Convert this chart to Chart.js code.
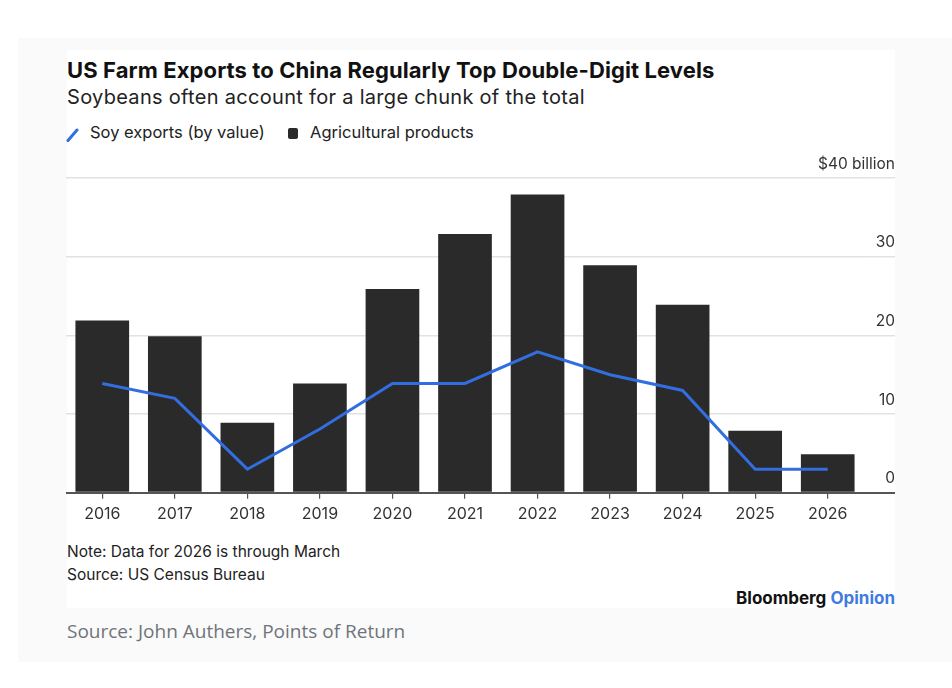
<!DOCTYPE html>
<html>
<head>
<meta charset="utf-8">
<script src="https://cdn.jsdelivr.net/npm/chart.js@4.4.1/dist/chart.umd.min.js"></script>
<style>
  html, body { margin:0; padding:0; background:#ffffff; width:952px; height:688px; overflow:hidden; font-family: Inter, "Liberation Sans", sans-serif; }
  #outer { position:absolute; left:18px; top:38px; width:934px; height:624px; background:#fafafa; }
  #card { position:absolute; left:67px; top:50px; width:828px; height:558px; background:#ffffff; }
  .t { position:absolute; white-space:nowrap; line-height:1.2; }
  #title { left:67px; top:57px; font-size:22px; font-weight:700; color:#111; letter-spacing:0.1px; }
  #subtitle { left:67px; top:85px; font-size:20px; font-weight:400; color:#222; letter-spacing:0.3px; }
  #leg1 { left:90px; top:123px; font-size:16.5px; color:#222; }
  #leg2 { left:310px; top:123px; font-size:16.5px; color:#222; }
  #legsq { position:absolute; left:288px; top:128px; width:10px; height:11px; background:#2a2a2a; border-radius:2px; }
  #legline { position:absolute; left:66px; top:128px; }
  #note { left:67px; top:543px; font-size:15.5px; color:#222; }
  #src1 { left:67px; top:566px; font-size:15.5px; color:#222; }
  #brand { right:57px; top:588px; font-size:17px; font-weight:700; color:#111; }
  #brand span { color:#3f7be0; }
  #src2 { left:67px; top:620px; font-size:19px; color:#6f747a; font-family:"Open Sans", "Noto Sans", sans-serif; }
  #chart { position:absolute; left:66px; top:150px; }
</style>
</head>
<body>
<div id="outer"></div>
<div id="card"></div>
<div class="t" id="title">US Farm Exports to China Regularly Top Double-Digit Levels</div>
<div class="t" id="subtitle">Soybeans often account for a large chunk of the total</div>
<svg id="legline" width="14" height="14"><line x1="2" y1="12.5" x2="11" y2="2" stroke="#326ee0" stroke-width="3" stroke-linecap="round"/></svg>
<div class="t" id="leg1">Soy exports (by value)</div>
<div id="legsq"></div>
<div class="t" id="leg2">Agricultural products</div>
<canvas id="chart" width="829" height="380"></canvas>
<div class="t" id="note">Note: Data for 2026 is through March</div>
<div class="t" id="src1">Source: US Census Bureau</div>
<div class="t" id="brand">Bloomberg <span>Opinion</span></div>
<div class="t" id="src2">Source: John Authers, Points of Return</div>
<script>
const years = ['2016','2017','2018','2019','2020','2021','2022','2023','2024','2025','2026'];
const agriculturalProducts = [21.9, 19.9, 8.9, 13.9, 25.9, 32.9, 37.9, 28.9, 23.9, 7.9, 4.9];
const soyExports = [13.9, 12.0, 3.0, 8.1, 13.9, 13.9, 17.9, 15.0, 13.0, 3.0, 3.0];
const yTickValues = [0, 10, 20, 30, 40];
const yTopLabel = '$40 billion';

const ctx = document.getElementById('chart').getContext('2d');
new Chart(ctx, {
  data: {
    labels: years,
    datasets: [
      {
        type: 'line',
        label: 'Soy exports (by value)',
        data: soyExports,
        borderColor: '#326ee0',
        borderWidth: 3,
        pointRadius: 0,
        tension: 0,
        fill: false,
        order: 0
      },
      {
        type: 'bar',
        label: 'Agricultural products',
        data: agriculturalProducts,
        backgroundColor: '#2a2a2a',
        borderWidth: 0,
        barPercentage: 0.74,
        categoryPercentage: 1,
        order: 1
      }
    ]
  },
  options: {
    responsive: false,
    animation: false,
    devicePixelRatio: 1,
    layout: { padding: { left: 0, right: 0, top: 28, bottom: 0 } },
    plugins: { legend: { display: false }, tooltip: { enabled: false } },
    scales: {
      x: {
        offset: true,
        grid: { display: true, offset: false, drawOnChartArea: false, drawTicks: true, tickLength: 6, color: '#555', lineWidth: 1.2 },
        border: { display: false },
        ticks: { color: '#333', font: { family: 'Inter', size: 16 }, padding: 6, maxRotation: 0 }
      },
      y: {
        position: 'right',
        min: 0,
        max: 40,
        afterBuildTicks: (s) => { s.ticks = yTickValues.map(v => ({ value: v })); },
        afterFit: (s) => { s.width = 31; s.paddingTop = 0; s.paddingBottom = 0; },
        grid: {
          drawTicks: true,
          tickLength: 31,
          color: (c) => (c.tick && c.tick.value === 0) ? '#555' : '#e2e2e2',
          lineWidth: (c) => (c.tick && c.tick.value === 0) ? 2 : 1.5
        },
        border: { display: false },
        ticks: {
          color: '#333',
          font: { family: 'Inter', size: 15.5 },
          mirror: true,
          crossAlign: 'near',
          padding: 31,
          labelOffset: -14,
          callback: (v) => v === 40 ? yTopLabel : String(v)
        }
      }
    }
  }
});
</script>
</body>
</html>
